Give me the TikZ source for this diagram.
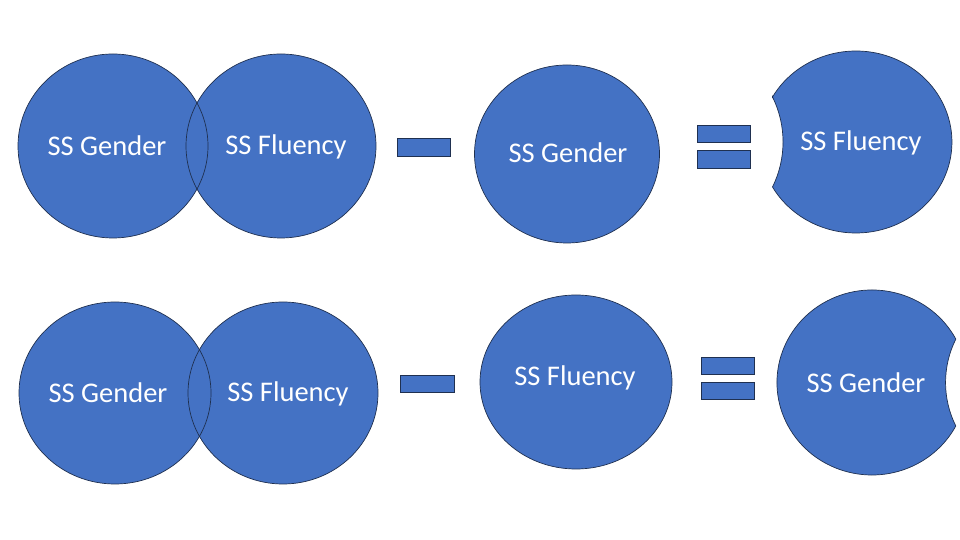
\documentclass[tikz,border=0pt]{standalone}
\usepackage{fontspec}
\setmainfont{Carlito}
\definecolor{shapeblue}{HTML}{4472C4}
\definecolor{edgeblue}{HTML}{1F3050}
\tikzset{
  blob/.style={fill=shapeblue},
  rim/.style={draw=edgeblue, line width=0.7pt},
  lbl/.style={text=white, font=\fontsize{28.5}{33}\selectfont, inner sep=0pt},
  bar/.style={fill=shapeblue, draw=edgeblue, line width=0.7pt},
}
\begin{document}
\begin{tikzpicture}[x=1pt,y=1pt]
\useasboundingbox (0,0) rectangle (960,540);

% ---------- top row ----------
\fill[blob] (113,394) ellipse [x radius=95, y radius=92];
\fill[blob] (281,394) ellipse [x radius=95, y radius=92];
\draw[rim] (113,394) ellipse [x radius=95, y radius=92];
\draw[rim] (281,394) ellipse [x radius=95, y radius=92];
\node[lbl] (tg) at (107,394) {SS Gender};
\node[lbl] (tf) at (286,393) {SS Fluency};

\draw[bar] (397,384) rectangle (450,402);

\draw[blob, rim] (567,386) ellipse [x radius=92.5, y radius=89];
\node[lbl] (tg2) at (568,387) {SS Gender};

\draw[bar] (697,398) rectangle (750,415);
\draw[bar] (697,372) rectangle (750,390);

\draw[blob, rim] (772.5,443) arc[start angle=150.36, end angle=-150.36, x radius=96, y radius=91]
  arc[start angle=-26.3, end angle=26.3, radius=101.7] -- cycle;
\node[lbl] (tf3) at (861,397) {SS Fluency};

% ---------- bottom row ----------
\fill[blob] (115,147) ellipse [x radius=96, y radius=91];
\fill[blob] (283,147) ellipse [x radius=95, y radius=91];
\draw[rim] (115,147) ellipse [x radius=96, y radius=91];
\draw[rim] (283,147) ellipse [x radius=95, y radius=91];
\node[lbl] (bg) at (108,147) {SS Gender};
\node[lbl] (bf) at (288,146) {SS Fluency};

\draw[bar] (400,148) rectangle (454,165);

\draw[blob, rim] (576,158) ellipse [x radius=96, y radius=87];
\node[lbl] (bf2) at (575,162) {SS Fluency};

\draw[bar] (701,166) rectangle (754,183);
\draw[bar] (701,141) rectangle (754,158);

\draw[blob, rim] (955.8,201) arc[start angle=28.05, end angle=331.95, x radius=95, y radius=92.5]
  arc[start angle=206.6, end angle=153.4, radius=97] -- cycle;
\node[lbl] (bg3) at (866,157) {SS Gender};
\end{tikzpicture}
\end{document}
